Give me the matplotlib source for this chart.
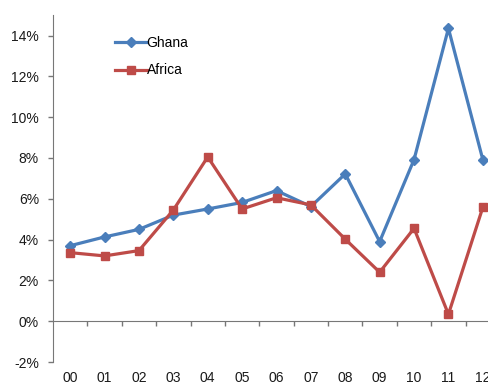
import matplotlib
matplotlib.use('Agg')
import matplotlib.pyplot as plt
from matplotlib.ticker import FixedLocator, FuncFormatter

# category labels (years) and series values in percent
years = ['00', '01', '02', '03', '04', '05', '06', '07', '08', '09', '10', '11', '12']
ghana = [3.7, 4.13, 4.5, 5.2, 5.5, 5.82, 6.4, 5.62, 7.22, 3.9, 7.92, 14.35, 7.92]
africa = [3.36, 3.2, 3.46, 5.45, 8.05, 5.5, 6.05, 5.7, 4.02, 2.4, 4.55, 0.34, 5.58]
y_ticks = [-2, 0, 2, 4, 6, 8, 10, 12, 14]


def main():
  plt.rcParams['font.family'] = ['Liberation Sans', 'DejaVu Sans']

  fig = plt.figure(figsize=(4.88, 3.85), dpi=100)
  # plot area runs a little past the right edge, like the source image
  ax = fig.add_axes([0.1086, 0.0597, 0.916, 0.901])

  x = list(range(len(years)))
  ax.plot(x, ghana, color='#4a7ebb', linewidth=2.3, marker='D', markersize=5.5,
          label='Ghana', clip_on=False)
  ax.plot(x, africa, color='#be4b48', linewidth=2.3, marker='s', markersize=5.5,
          label='Africa', clip_on=False)

  ax.set_xlim(-0.5, len(years) - 0.5)
  ax.set_ylim(-2, 15)

  # axes look
  for side in ['top', 'right']:
    ax.spines[side].set_visible(False)
  ax.spines['left'].set_color('#777777')
  ax.spines['left'].set_bounds(-2, 15)
  ax.spines['bottom'].set_position(('data', 0))
  ax.spines['bottom'].set_color('#777777')

  ax.yaxis.set_major_locator(FixedLocator(y_ticks))
  ax.yaxis.set_major_formatter(FuncFormatter(lambda v, p: '%d%%' % v))
  ax.tick_params(axis='y', length=3.6, width=1, color='#777777', pad=6.5,
                 labelsize=10, labelcolor='#1a1a1a')

  # x ticks sit between categories, labels are drawn below the plot
  ax.set_xticks([i + 0.5 for i in range(len(years))])
  ax.set_xticklabels([])
  ax.tick_params(axis='x', length=3.6, width=1, color='#777777', direction='out')
  for i, lab in enumerate(years):
    ax.text(i, -0.046, lab, transform=ax.get_xaxis_transform(), ha='center', va='center',
            fontsize=10, color='#1a1a1a')

  ax.legend(loc='upper left', bbox_to_anchor=(0.11, 0.975), frameon=False, fontsize=10,
            handlelength=2.3, handletextpad=0.0, labelspacing=0.95)

  fig.savefig('out.png', dpi=100, facecolor='w')
  plt.close('all')


if __name__ == '__main__':
  main()
